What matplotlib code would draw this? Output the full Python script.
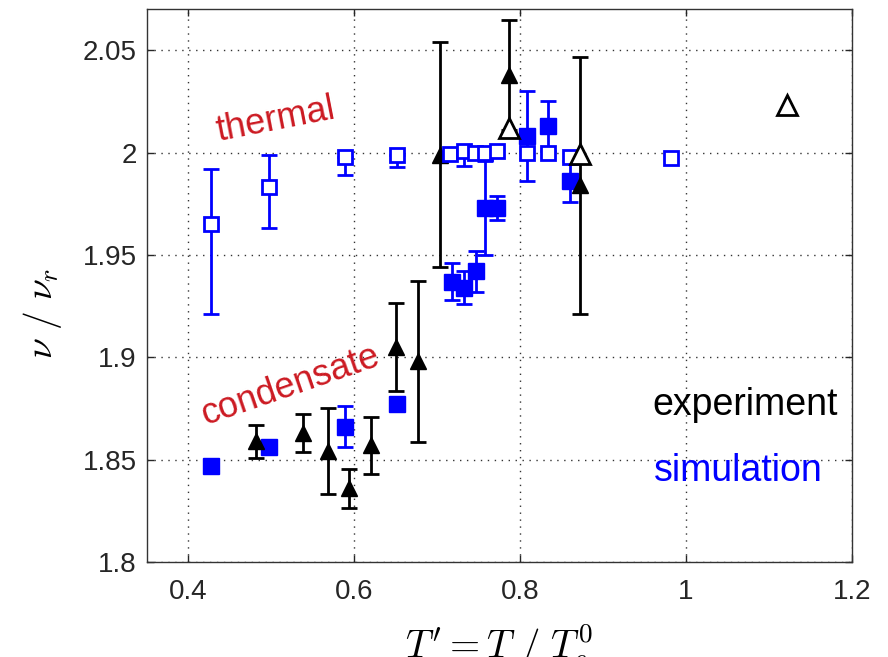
import numpy as np
import matplotlib
matplotlib.use("Agg")
import matplotlib.pyplot as plt

# --- simulation, condensate (filled blue squares) ---
sim_c_x = [0.427, 0.497, 0.589, 0.652, 0.718, 0.733, 0.747, 0.758, 0.772, 0.808, 0.834, 0.860]
sim_c_y = [1.847, 1.856, 1.866, 1.877, 1.937, 1.934, 1.942, 1.973, 1.973, 2.008, 2.013, 1.986]
sim_c_e = [0.0, 0.0, 0.010, 0.0, 0.009, 0.008, 0.010, 0.023, 0.006, 0.022, 0.012, 0.010]

# --- simulation, thermal (open blue squares) ---
sim_t_x = [0.427, 0.497, 0.589, 0.652, 0.716, 0.733, 0.746, 0.758, 0.772, 0.808, 0.834, 0.860, 0.982]
sim_t_y = [1.965, 1.983, 1.998, 1.999, 1.9995, 2.0006, 2.000, 1.9998, 2.0006, 2.000, 2.000, 1.998, 1.9975]
sim_t_lo = [0.044, 0.020, 0.009, 0.006, 0.0, 0.007, 0.0, 0.0, 0.0, 0.0, 0.0, 0.0, 0.0]
sim_t_hi = [0.027, 0.016, 0.0, 0.0, 0.0, 0.0, 0.0, 0.0, 0.0, 0.0, 0.0, 0.0, 0.0]

# --- experiment, condensate (filled black triangles) ---
exp_c_x = [0.482, 0.539, 0.568, 0.594, 0.621, 0.650, 0.677, 0.704, 0.787, 0.872]
exp_c_y = [1.859, 1.863, 1.854, 1.836, 1.857, 1.905, 1.898, 1.999, 2.038, 1.984]
exp_c_e = [0.008, 0.0095, 0.021, 0.0094, 0.014, 0.0216, 0.0395, 0.055, 0.027, 0.0627]

# --- experiment, thermal (open black triangles) ---
exp_t_x = [0.787, 0.872, 1.122]
exp_t_y = [2.012, 1.9995, 2.0235]

XTICKS = [0.4, 0.6, 0.8, 1.0, 1.2]
XTICKLABELS = ["0.4", "0.6", "0.8", "1", "1.2"]
YTICKS = [1.8, 1.85, 1.9, 1.95, 2.0, 2.05]
YTICKLABELS = ["1.8", "1.85", "1.9", "1.95", "2", "2.05"]

RED = "#cc1a22"
BLUE = "#0000ff"

plt.rcParams.update({
    "font.family": ["Liberation Sans", "DejaVu Sans"],
    "mathtext.fontset": "cm",
    "axes.linewidth": 1.0,
})

fig = plt.figure(figsize=(8.88, 6.57), dpi=100)
ax = fig.add_axes([0.1652, 0.1446, 0.7939, 0.8412])

ebkw = dict(linestyle="none", marker="none", elinewidth=2.0, capsize=6, capthick=2.0)


def bars(x, y, lo, hi, color, z):
    x, y, lo, hi = map(np.asarray, (x, y, lo, hi))
    m = (lo + hi) > 0
    ax.errorbar(x[m], y[m], yerr=np.array([lo[m], hi[m]]), color=color, zorder=z, **ebkw)


# filled squares
bars(sim_c_x, sim_c_y, sim_c_e, sim_c_e, BLUE, 3)
ax.plot(sim_c_x, sim_c_y, linestyle="none", marker="s", markersize=11.5,
        mfc=BLUE, mec=BLUE, zorder=3.1)
# filled triangles
bars(exp_c_x, exp_c_y, exp_c_e, exp_c_e, "black", 4)
ax.plot(exp_c_x, exp_c_y, linestyle="none", marker="^", markersize=12,
        mfc="black", mec="black", zorder=4.1)
# open squares
bars(sim_t_x, sim_t_y, sim_t_lo, sim_t_hi, BLUE, 5)
ax.plot(sim_t_x, sim_t_y, linestyle="none", marker="s", markersize=10.5,
        mfc="white", mec=BLUE, mew=2.0, zorder=5.1)
# open triangles
ax.plot(exp_t_x, exp_t_y, linestyle="none", marker="^", markersize=15,
        mfc="white", mec="black", mew=2.0, zorder=6)

ax.set_xlim(0.35, 1.2)
ax.set_ylim(1.8, 2.07)
ax.set_xticks(XTICKS)
ax.set_xticklabels(XTICKLABELS)
ax.set_yticks(YTICKS)
ax.set_yticklabels(YTICKLABELS)
ax.grid(True, linestyle=(0, (1, 4)), color="#333333", linewidth=1.0)
ax.tick_params(direction="in", length=5, width=1.0, top=True, right=True,
               labelsize=20, colors="#262626")
ax.tick_params(axis="x", pad=12)
ax.tick_params(axis="y", pad=7)
for sp in ax.spines.values():
    sp.set_color("#333333")

ax.set_ylabel(r"$\nu\ /\ \nu_r$", fontsize=27)
ax.yaxis.set_label_coords(-0.118, 0.45)
ax.set_xlabel(r"$T^{\prime} = T\ /\ T_c^0$", fontsize=28)
ax.xaxis.set_label_coords(0.5, -0.108)

ax.text(0.506, 2.0157, "thermal", color=RED, fontsize=26, rotation=11,
        ha="center", va="center", rotation_mode="anchor")
ax.text(0.523, 1.8863, "condensate", color=RED, fontsize=26, rotation=19,
        ha="center", va="center", rotation_mode="anchor")
ax.text(0.960, 1.872, "experiment", color="black", fontsize=27,
        ha="left", va="baseline")
ax.text(0.961, 1.8394, "simulation", color=BLUE, fontsize=27,
        ha="left", va="baseline")

fig.savefig("out.png", dpi=100)
